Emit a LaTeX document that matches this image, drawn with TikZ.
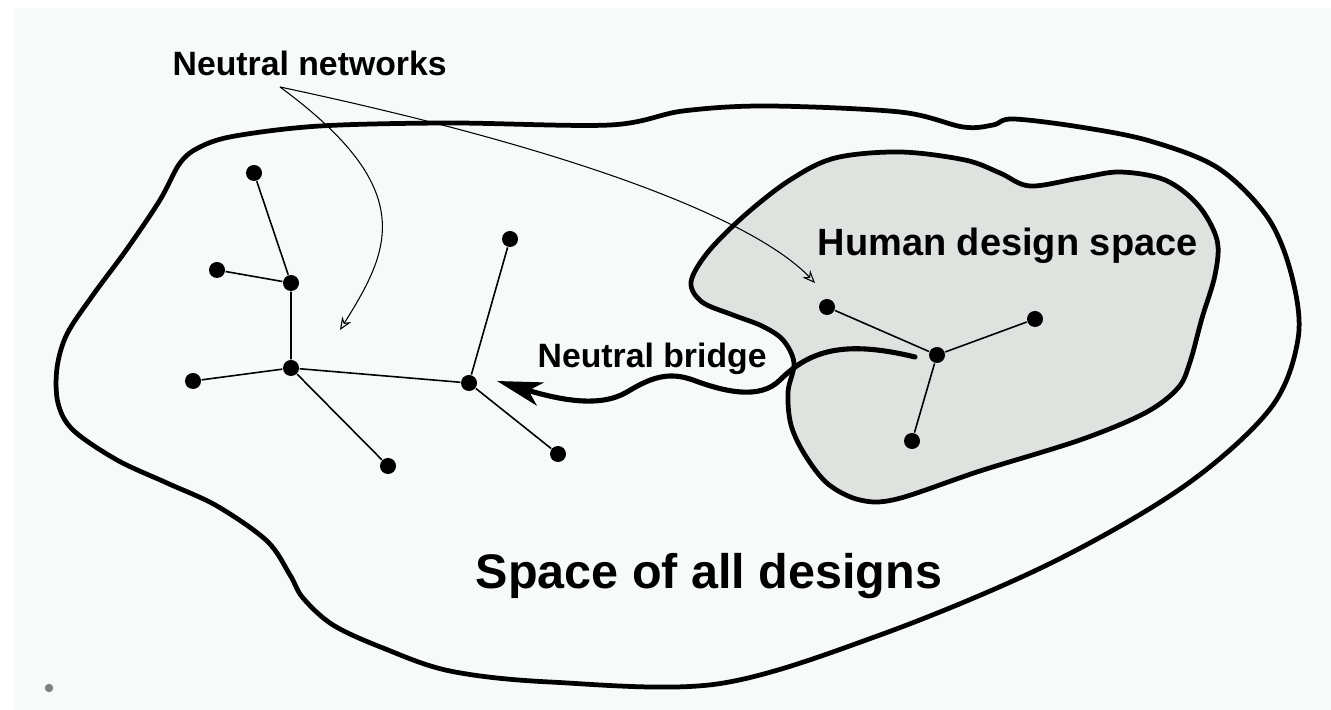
\documentclass[tikz,border=0pt]{standalone}
\usepackage{fontspec}
\setmainfont{Liberation Sans}
\usetikzlibrary{arrows.meta}
\usepackage{color}
\definecolor{pagebg}{RGB}{246,250,248}
\definecolor{humanfill}{RGB}{223,227,224}

\begin{document}
\begin{tikzpicture}[x=0.01cm,y=-0.01cm,
    dot/.style={circle,fill=black,inner sep=0pt,minimum size=0.16cm},
    link/.style={line width=0.45pt},
    border/.style={line width=1.35pt},
    pointer/.style={line width=0.3pt,-{Stealth[open,length=3.6pt,width=3pt]}},
    label/.style={inner sep=0pt,anchor=base west,font=\bfseries}]
      \useasboundingbox (0,0) rectangle (1331,710);
      \fill[white] (0,0) rectangle (1331,710);
      \fill[pagebg] (14,8) rectangle (1331,710);
      \fill[gray] (49,688) circle (1.2pt);

      % space of all designs
      \draw[border] plot[smooth cycle,tension=0.55] coordinates {
        (180,163) (200,147) (235,136) (320,126) (450,123) (610,125) (683,111)
        (767,106) (900,112) (963,127) (993,125) (1013,119) (1080,127) (1150,141)
        (1218,168) (1268,218) (1292,277) (1298,339) (1270,409) (1183,487)
        (1047,565) (880,635) (717,684) (550,682) (450,671) (383,648) (333,625)
        (303,598) (290,575) (267,541) (217,506) (167,483) (117,460) (73,430)
        (58,403) (57,368) (67,334) (93,295) (127,249) (160,200)};

      % human design space
      \draw[border,fill=humanfill] plot[smooth cycle,tension=0.55] coordinates {
        (691,282) (708,252) (745,215) (790,180) (835,158) (900,152) (965,160)
        (1000,173) (1030,186) (1080,178) (1120,172) (1165,180) (1198,205)
        (1217,240) (1215,275) (1202,318) (1190,362) (1178,388) (1145,413)
        (1080,440) (980,471) (897,499) (860,500) (828,484) (805,455) (791,425)
        (788,392) (794,363) (783,340) (762,326) (733,315) (702,302)};

      \node[dot] (n1) at (254,173) {};
      \node[dot] (n2) at (217,270) {};
      \node[dot] (n3) at (291,283) {};
      \node[dot] (n4) at (291,368) {};
      \node[dot] (n5) at (193,381) {};
      \node[dot] (n6) at (388,466) {};
      \node[dot] (m1) at (510,239) {};
      \node[dot] (m2) at (469,383) {};
      \node[dot] (m3) at (558,454) {};
      \node[dot] (h1) at (827,307) {};
      \node[dot] (h2) at (937,355) {};
      \node[dot] (h3) at (1035,319) {};
      \node[dot] (h4) at (912,441) {};

      \draw[link] (n1) -- (n3) (n2) -- (n3) (n3) -- (n4) (n5) -- (n4)
                  (n4) -- (n6) (n4) -- (m2) (m1) -- (m2) (m2) -- (m3);
      \draw[link] (h1) -- (h2) (h2) -- (h3) (h2) -- (h4);

      \node[label,font=\bfseries\fontsize{9.6}{11}\selectfont] (nnlabel) at (172,76) {Neutral networks};
      \node[label,font=\bfseries\fontsize{10.8}{13}\selectfont] (hdlabel) at (817,256) {Human design space};
      \node[label,font=\bfseries\fontsize{9.6}{11}\selectfont] (nblabel) at (537,368) {Neutral bridge};
      \node[label,font=\bfseries\fontsize{13.8}{16}\selectfont] (salabel) at (475,588) {Space of all designs};

      \coordinate (fork) at (280,87);
      \coordinate (nntipl) at (340,330);
      \coordinate (nntipr) at (815,283);
      \draw[pointer] (fork) .. controls (420,190) and (390,250) .. (nntipl);
      \draw[pointer] (fork) .. controls (600,155) and (760,225) .. (nntipr);

      \coordinate (bridgefrom) at (915,357);
      \coordinate (b1) at (780,380);
      \coordinate (b2) at (693,380);
      \coordinate (b3) at (627,392);
      \coordinate (bridgeto) at (497,381);
      \draw[line width=1.45pt,line cap=round,-{Stealth[length=4.5mm,width=2.4mm,inset=1.2mm]}]
        (bridgefrom) .. controls (845,340) and (810,350) .. (b1)
        .. controls (760,400) and (725,392) .. (b2)
        .. controls (668,371) and (650,378) .. (b3)
        .. controls (600,408) and (560,400) .. (bridgeto);
\end{tikzpicture}
\end{document}
